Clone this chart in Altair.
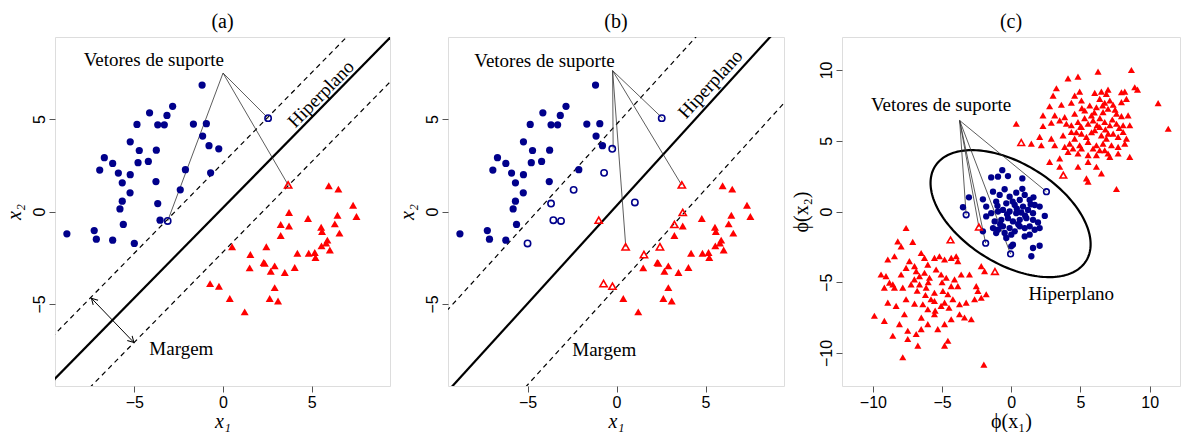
import altair as alt
import pandas as pd
import numpy as np

NAVY = "#00008B"
RED = "#FF0000"
SERIF = "Liberation Serif"
SANS = "Liberation Sans"

# ---------------- Panels (a) and (b): observations ----------------
blue_pts = [(-1.18, 6.84), (-2.84, 5.69), (-4.14, 5.34), (-3.16, 5.20), (-4.85, 4.71),
            (-3.68, 4.69), (-3.31, 4.69), (-1.67, 4.73), (-0.94, 4.75), (-1.15, 4.08),
            (-5.23, 3.77), (-0.79, 3.56), (-0.24, 3.39), (-4.72, 3.30), (-3.76, 3.32),
            (-6.69, 2.91), (-6.22, 2.60), (-4.79, 2.64), (-4.21, 2.71), (-6.95, 2.24),
            (-5.90, 2.08), (-5.23, 1.99), (-0.70, 2.09), (-2.12, 2.26), (-3.78, 1.62),
            (-5.68, 1.55), (-2.41, 1.17), (-5.24, 1.01), (-5.68, 0.56), (-3.68, 0.43),
            (-5.81, 0.14), (-8.80, -1.21), (-7.26, -1.03), (-7.14, -1.50), (-6.22, -1.55),
            (-5.00, -1.73), (-5.62, -0.70), (-3.55, -0.47), (2.54, 5.05), (-3.12, -0.51)]
red_pts = [(5.96, 1.39), (6.50, 1.21), (7.33, 0.34), (7.52, -0.27), (3.72, -0.05),
           (4.79, -0.38), (3.25, -0.70), (3.72, -0.78), (5.53, -0.85), (6.45, -0.20),
           (6.30, -0.67), (6.56, -1.17), (5.58, -1.08), (3.25, -1.30), (5.88, -1.55),
           (5.81, -1.71), (5.55, -1.86), (6.02, -2.08), (0.51, -1.91), (2.44, -1.91),
           (1.54, -2.33), (4.19, -2.26), (4.83, -2.26), (5.17, -2.22), (5.21, -2.49),
           (2.29, -2.76), (2.35, -2.80), (2.91, -2.94), (2.69, -3.23), (1.50, -3.05),
           (3.48, -3.30), (4.04, -3.03), (-0.73, -3.90), (-0.23, -4.04), (2.91, -4.12),
           (0.38, -4.71), (2.63, -4.71), (3.10, -4.84), (1.22, -5.43), (3.67, 1.44)]
b_extra_blue = [(1.03, 0.49)]
b_extra_red = [(-1.00, -0.47)]

a_sv_blue = [38, 39]
a_sv_red = [39]
b_sv_blue = [12, 22, 26, 29, 35, 37, 38, 39, 40]
b_sv_red = [4, 6, 18, 19, 20, 32, 33, 39, 40]

# separating lines: slope, intercepts (upper margin, hyperplane, lower margin)
a_slope = 0.977
a_intercepts = [2.63, 0.21, -2.19]
b_slope = 1.058
b_intercepts = [4.72, 0.31, -4.09]
line_dashed = [True, False, True]

# annotation hubs and targets
a_hub = (0.0, 7.49)
a_targets = [(2.54, 5.05), (3.67, 1.44), (-3.12, -0.51)]
b_hub = (-0.22, 7.62)
b_targets = [(2.58, 5.05), (-0.19, 3.41), (3.66, 1.43), (0.52, -1.91)]
a_margin_arrow = [(-7.42, -4.69), (-5.02, -7.09)]

# ---------------- Panel (c) ----------------
c_red_up = [(6.27, 9.88), (8.68, 10.0), (4.82, 9.53), (4.10, 9.41), (8.92, 8.78), (9.12, 8.61),
            (3.26, 8.71), (3.02, 8.19), (4.58, 8.19), (4.94, 8.47), (6.03, 8.38), (6.51, 8.47),
            (6.87, 8.31), (6.99, 8.61), (7.96, 8.43), (8.20, 8.47), (8.32, 7.96), (2.77, 7.44),
            (3.62, 7.54), (4.34, 7.68), (5.07, 7.84), (5.67, 7.49), (6.39, 7.96), (6.75, 7.68),
            (7.12, 7.84), (7.36, 7.54), (7.96, 7.73), (10.61, 7.66), (2.29, 6.79), (3.14, 6.79),
            (3.86, 6.67), (4.58, 6.91), (5.31, 7.14), (5.79, 6.79), (6.15, 7.37), (6.63, 7.02),
            (6.99, 7.26), (7.60, 6.91), (7.96, 6.74), (8.44, 6.79), (0.36, 6.20), (2.29, 6.04),
            (2.89, 6.27), (3.50, 6.44), (3.98, 6.20), (4.34, 6.09), (4.82, 6.32), (5.07, 5.97),
            (5.55, 6.20), (5.91, 6.44), (6.39, 5.97), (6.75, 6.32), (7.12, 6.09), (7.60, 6.20),
            (8.08, 6.09), (8.56, 6.09), (11.34, 5.85), (2.05, 5.27), (2.89, 5.15), (3.74, 5.38),
            (4.34, 5.62), (4.58, 5.15), (5.07, 5.50), (5.43, 5.27), (6.03, 5.74), (6.51, 5.38),
            (6.87, 5.15), (7.36, 5.50), (7.72, 5.27), (8.08, 5.62), (8.32, 5.15), (1.45, 4.80),
            (2.17, 4.68), (3.14, 4.68), (4.22, 4.80), (4.94, 4.68), (5.55, 4.92), (6.15, 4.68),
            (6.63, 4.80), (7.24, 4.68), (7.72, 4.57), (8.20, 4.80), (2.77, 3.51), (3.50, 3.75),
            (4.10, 4.21), (4.82, 4.10), (5.55, 3.98), (6.15, 3.98), (6.75, 4.33), (7.12, 3.86),
            (7.72, 4.10), (8.56, 3.86), (3.50, 3.16), (4.82, 3.16), (5.55, 3.51), (6.15, 3.16),
            (6.51, 2.69), (5.43, 2.34), (5.55, 2.11), (7.60, 1.59), (6.99, 4.10), (6.39, 4.33),
            (5.91, 4.45), (5.07, 4.45), (4.46, 4.45), (3.86, 4.57), (5.30, 6.60), (6.00, 7.00),
            (6.40, 6.60), (6.80, 5.80), (7.30, 6.50), (5.80, 5.60), (6.20, 6.10), (7.00, 5.50),
            (7.80, 5.90), (5.10, 7.30), (4.70, 5.60), (6.60, 7.50), (7.50, 7.20), (5.00, 6.00)]
c_red_low = [(-7.60, -1.17), (-8.20, -2.11), (-7.96, -2.46), (-8.92, -3.39), (-7.12, -2.15),
             (-8.44, -3.16), (-6.51, -2.93), (-7.36, -3.51), (-6.99, -3.86), (-6.27, -3.28),
             (-6.03, -3.75), (-5.55, -3.28), (-5.19, -3.16), (-4.82, -3.39), (-4.34, -3.28),
             (-3.98, -3.16), (-3.86, -3.51), (-9.41, -4.45), (-9.05, -4.57), (-8.56, -5.15),
             (-8.80, -5.03), (-7.96, -4.45), (-7.60, -3.98), (-6.87, -4.21), (-6.63, -4.57),
             (-6.27, -4.33), (-5.91, -4.68), (-5.43, -4.10), (-5.07, -4.45), (-4.70, -4.68),
             (-4.10, -4.80), (-3.62, -4.45), (-3.02, -4.45), (-2.17, -3.86), (-1.93, -4.21),
             (-9.89, -7.37), (-9.17, -7.73), (-8.92, -6.44), (-8.32, -6.67), (-7.60, -6.20),
             (-6.99, -6.51), (-6.39, -6.55), (-6.03, -6.91), (-5.55, -6.32), (-5.07, -6.67),
             (-4.82, -6.44), (-4.58, -5.85), (-4.22, -6.20), (-3.74, -6.55), (-3.26, -6.44),
             (-2.65, -6.20), (-2.17, -6.09), (-1.81, -5.85), (-9.17, -5.38), (-8.44, -5.38),
             (-7.84, -5.38), (-7.24, -5.15), (-6.63, -5.15), (-6.15, -5.38), (-5.55, -5.74),
             (-4.94, -5.62), (-4.34, -5.27), (-3.86, -5.27), (-2.53, -5.27), (-2.41, -5.62),
             (-3.74, -7.26), (-4.34, -7.61), (-4.82, -7.96), (-5.31, -8.31), (-6.03, -7.96),
             (-6.51, -8.31), (-6.87, -8.66), (-7.48, -8.43), (-8.08, -7.96), (-8.56, -8.78),
             (-6.75, -9.48), (-7.48, -9.01), (-5.55, -7.26), (-7.72, -7.26), (-4.58, -9.13),
             (-4.82, -9.48), (-7.84, -10.30), (-1.98, -10.82), (-2.89, -7.61), (-3.38, -7.49),
             (-6.20, -5.90), (-5.80, -6.20), (-6.80, -5.60), (-5.00, -5.00), (-6.00, -5.00),
             (-7.00, -4.80), (-5.50, -7.00), (-6.50, -7.50), (-4.50, -6.80)]
c_blue = [(-0.65, 2.92), (-1.45, 2.41), (-0.96, 2.46), (-0.24, 2.50), (0.80, 2.34), (-3.06, 1.00),
          (-3.49, 0.30), (-2.05, 0.86), (-1.81, 0.35), (-1.32, 1.40), (-0.84, 1.17), (-0.48, 1.57),
          (-0.12, 1.05), (0.36, 1.33), (0.61, 0.81), (0.97, 1.17), (1.33, 0.81), (1.69, 0.46),
          (0.85, 0.35), (0.25, 0.46), (-0.36, 0.58), (-1.09, 0.70), (-1.45, -0.12), (-1.81, -0.35),
          (-0.96, 0.00), (-0.60, 0.11), (-0.12, 0.00), (0.36, -0.12), (0.72, -0.07), (1.21, 0.11),
          (1.57, -0.12), (2.05, 0.35), (2.42, -0.31), (-1.20, -0.70), (-0.72, -0.59), (-0.24, -0.47),
          (0.12, -0.70), (0.61, -0.59), (1.09, -0.47), (1.57, -0.59), (1.93, -0.77), (-1.32, -1.17),
          (-0.96, -1.29), (-0.60, -1.05), (-0.12, -1.17), (0.25, -1.40), (0.61, -1.05), (0.97, -1.17),
          (1.33, -1.05), (1.69, -1.29), (2.05, -1.17), (-2.05, -1.40), (-1.09, -1.52), (-0.48, -1.52),
          (0.00, -1.64), (0.97, -1.76), (1.33, -1.64), (-0.36, -1.87), (0.12, -2.35), (0.00, -2.46),
          (1.57, -2.58), (2.05, -2.42), (1.45, -3.16), (0.40, 0.20), (-0.30, -0.20), (1.00, -0.30),
          (0.50, -0.90), (-0.80, -0.90), (1.40, 0.50), (0.10, 0.70), (-1.00, 0.40), (0.80, 1.60),
          (1.60, 1.00)]
c_sv_blue = [(2.54, 1.40), (-3.26, -0.23), (-1.85, -2.24), (-0.05, -3.00)]
c_sv_red = [(-2.34, -1.10), (-4.39, -2.01), (-1.18, -4.24), (0.72, 4.87), (3.76, 2.57)]
c_hub = (-3.73, 6.43)
c_targets = [(-3.26, -0.23), (-2.34, -1.10), (-1.85, -2.24), (-0.05, -3.00), (2.54, 1.40)]
# decision boundary (ellipse): centre, semi-axes, rotation (deg)
c_ellipse = {"cx": -0.05, "cy": -0.15, "a": 6.4, "b": 3.55, "angle": -31.0}

# ---------------- helpers ----------------
H = 349


def pts_df(pts):
    return pd.DataFrame(pts, columns=["x", "y"])


def axis(values, title, width, vertical=False, italic=True):
    kw = dict(values=values, grid=False, domain=False, ticks=True, tickSize=6,
              tickColor="#555", tickWidth=1, labelFont=SANS, labelFontSize=16,
              labelColor="black", title=title, titleFont=SERIF,
              titleFontSize=20, titleFontWeight="normal", titleColor="black",
              titleFontStyle="italic" if italic else "normal", format="d",
              titleBaseline="alphabetic", titleAlign="center")
    if vertical:
        kw.update(labelAngle=270, labelPadding=2, titleX=-35, titleY=H / 2, titleAngle=270)
    else:
        kw.update(labelPadding=2, titleX=width / 2, titleY=41)
    return alt.Axis(**kw)


class Frame:
    def __init__(self, xs, ys, xa, ya):
        self.xs, self.ys, self.xa, self.ya = xs, ys, xa, ya

    def enc(self):
        return dict(x=alt.X("x:Q", scale=self.xs, axis=self.xa),
                    y=alt.Y("y:Q", scale=self.ys, axis=self.ya))


def scatter(df, fr, shape, color, filled, size):
    mk = alt.Chart(df).mark_point(shape=shape, filled=filled, size=size, opacity=1,
                                  color=color, strokeWidth=1.6 if not filled else 0.5,
                                  clip=True)
    return mk.encode(**fr.enc())


def rules(df, fr, color="black", width=1.0, dash=None):
    kw = dict(color=color, strokeWidth=width, clip=True)
    if dash:
        kw["strokeDash"] = dash
    return alt.Chart(df).mark_rule(**kw).encode(**fr.enc(), x2="x2:Q", y2="y2:Q")


def text(label, x, y, fr, angle=0, size=19, align="center"):
    df = pd.DataFrame({"x": [x], "y": [y], "t": [label]})
    return alt.Chart(df).mark_text(font=SERIF, fontSize=size, color="black", align=align,
                                   baseline="middle", angle=angle).encode(**fr.enc(), text="t:N")


def seg_df(hub, targets):
    return pd.DataFrame({"x": [hub[0]] * len(targets), "y": [hub[1]] * len(targets),
                         "x2": [t[0] for t in targets], "y2": [t[1] for t in targets]})


def sep_lines(slope, intercepts):
    xa, xb = -15.0, 15.0
    return pd.DataFrame({"x": [xa] * 3, "x2": [xb] * 3,
                         "y": [slope * xa + b for b in intercepts],
                         "y2": [slope * xb + b for b in intercepts],
                         "dashed": line_dashed})


XD_AB = [-9.47, 9.41]
YD_AB = [-9.44, 9.44]


def title_of(s):
    return alt.TitleParams(s, font=SERIF, fontSize=20, fontWeight="normal", color="black",
                           offset=5)


def panel_ab(title, blue, red, sv_b, sv_r, slope, intercepts, hub, targets, vs_xy,
             hip_xy, hip_angle, marg_xy, width, arrow=None):
    fr = Frame(alt.Scale(domain=XD_AB, nice=False, zero=False),
               alt.Scale(domain=YD_AB, nice=False, zero=False),
               axis([-5, 0, 5], "x\u2081", width),
               axis([-5, 0, 5], "x\u2082", width, vertical=True))
    bdf = pts_df(blue)
    rdf = pts_df(red)
    bdf["sv"] = [i in sv_b for i in range(len(bdf))]
    rdf["sv"] = [i in sv_r for i in range(len(rdf))]
    lines = sep_lines(slope, intercepts)
    layers = [rules(lines[lines.dashed], fr, width=1.2, dash=[5, 4]),
              rules(lines[~lines.dashed], fr, width=2.2),
              rules(seg_df(hub, targets), fr, color="#333", width=0.8)]
    if arrow is not None:
        adf = pd.DataFrame({"x": [arrow[0][0]], "y": [arrow[0][1]],
                            "x2": [arrow[1][0]], "y2": [arrow[1][1]]})
        layers.append(rules(adf, fr, width=1.0))
        hdf = pd.DataFrame({"x": [arrow[0][0], arrow[1][0]], "y": [arrow[0][1], arrow[1][1]],
                            "ang": [316, 136]})
        layers.append(alt.Chart(hdf).mark_point(shape="M-0.55,1L0,0L0.55,1", filled=False,
                                                size=150, color="black", strokeWidth=1.0,
                                                opacity=1).encode(
            **fr.enc(), angle=alt.Angle("ang:Q", scale=None)))
    layers += [scatter(bdf[~bdf.sv], fr, "circle", NAVY, True, 52),
               scatter(bdf[bdf.sv], fr, "circle", NAVY, False, 40),
               scatter(rdf[~rdf.sv], fr, "triangle-up", RED, True, 64),
               scatter(rdf[rdf.sv], fr, "triangle-up", RED, False, 52),
               text("Vetores de suporte", vs_xy[0], vs_xy[1], fr),
               text("Hiperplano", hip_xy[0], hip_xy[1], fr, angle=hip_angle),
               text("Margem", marg_xy[0], marg_xy[1], fr)]
    return alt.layer(*layers).properties(width=width, height=H, title=title_of(title))


pa = panel_ab("(a)", blue_pts, red_pts, a_sv_blue, a_sv_red, a_slope, a_intercepts,
              a_hub, a_targets, (-3.90, 8.19), (5.52, 6.35), 314.5, (-2.35, -7.46), 335,
              arrow=a_margin_arrow)
pb = panel_ab("(b)", blue_pts + b_extra_blue, red_pts + b_extra_red, b_sv_blue, b_sv_red,
              b_slope, b_intercepts, b_hub, b_targets, (-4.05, 8.15), (5.28, 6.89), 312.4,
              (-0.69, -7.49), 336)

# ---- panel (c)
WC = 338
frc = Frame(alt.Scale(domain=[-12.23, 12.19], nice=False, zero=False),
            alt.Scale(domain=[-12.33, 12.33], nice=False, zero=False),
            axis([-10, -5, 0, 5, 10], "\u03d5(x\u2081)", WC, italic=False),
            axis([-10, -5, 0, 5, 10], "\u03d5(x\u2082)", WC, vertical=True, italic=False))
t = np.linspace(0, 2 * np.pi, 181)
th = np.deg2rad(c_ellipse["angle"])
ell = pd.DataFrame({
    "x": c_ellipse["cx"] + c_ellipse["a"] * np.cos(t) * np.cos(th) - c_ellipse["b"] * np.sin(t) * np.sin(th),
    "y": c_ellipse["cy"] + c_ellipse["a"] * np.cos(t) * np.sin(th) + c_ellipse["b"] * np.sin(t) * np.cos(th),
    "o": np.arange(len(t))})
ell_layer = alt.Chart(ell).mark_line(color="black", strokeWidth=2.2, clip=True).encode(
    **frc.enc(), order="o:Q")
pc = alt.layer(
    ell_layer,
    rules(seg_df(c_hub, c_targets), frc, color="#333", width=0.8),
    scatter(pts_df(c_red_up + c_red_low), frc, "triangle-up", RED, True, 50),
    scatter(pts_df(c_blue), frc, "circle", NAVY, True, 40),
    scatter(pts_df(c_sv_blue), frc, "circle", NAVY, False, 32),
    scatter(pts_df(c_sv_red), frc, "triangle-up", RED, False, 44),
    text("Vetores de suporte", -5.07, 7.54, frc),
    text("Hiperplano", 4.34, -5.86, frc),
).properties(width=WC, height=H, title=title_of("(c)"))

chart = alt.hconcat(pa, pb, pc, spacing=58, bounds="flush").properties(
    padding={"left": 3, "top": 11, "right": 0, "bottom": 0}
).configure_view(stroke="#808080", strokeWidth=1.3).configure(background="white")

chart.save("out.html", embed_options={"renderer": "svg", "actions": False})
